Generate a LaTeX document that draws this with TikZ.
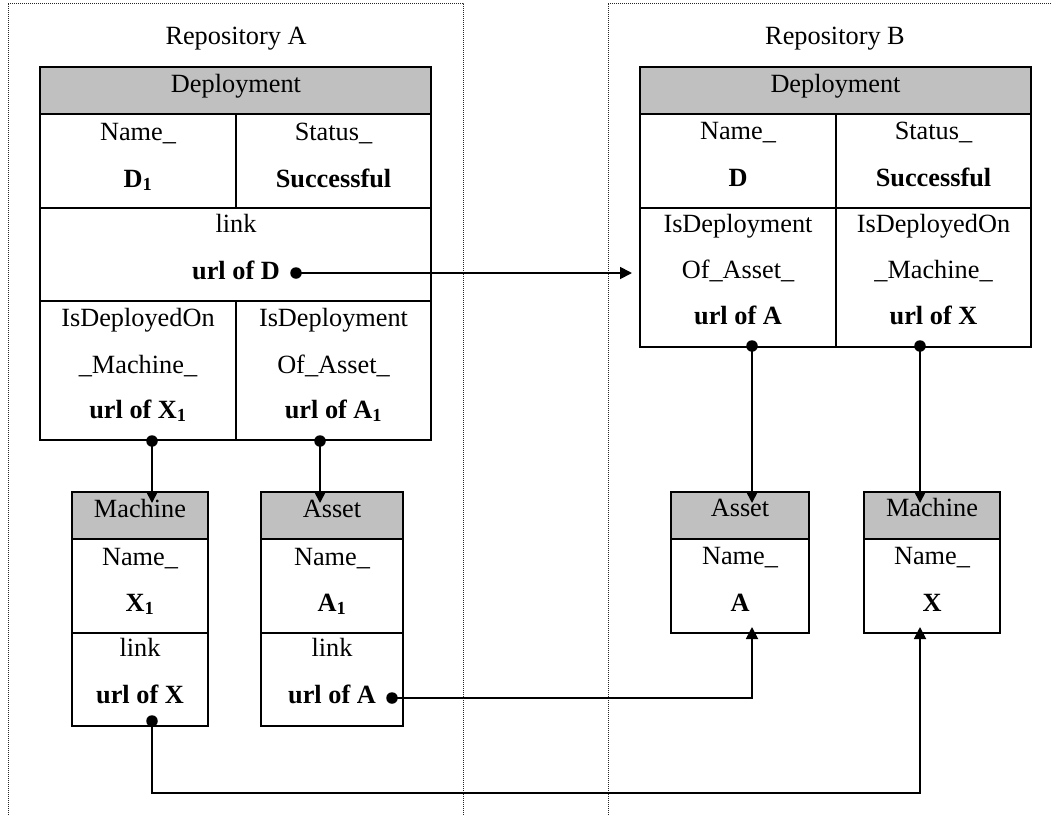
\documentclass[tikz,border=0pt]{standalone}
\usepackage{fontspec}
\setmainfont{Liberation Serif}
\usetikzlibrary{arrows.meta}
\definecolor{hdrgray}{HTML}{C0C0C0}
\begin{document}
\begin{tikzpicture}[x=1pt,y=-1pt,
  cellbox/.style={draw, line width=2pt, inner sep=0pt, outer sep=0pt, anchor=north west, fill=white},
  hdrbox/.style={cellbox, fill=hdrgray},
  lbl/.style={anchor=base, inner sep=0pt, font=\fontsize{26.3}{30}\selectfont},
  dotnode/.style={circle, fill=black, inner sep=0pt, minimum size=11.5pt},
  conn/.style={line width=1.8pt, -{Triangle[length=12pt,width=12pt]}},
  repoframe/.style={line width=1pt, dash pattern=on 1pt off 1pt, black!85}]
\useasboundingbox (0,0) rectangle (1052,815);

% repository frames
\draw[repoframe] (8,815) -- (8,3) -- (463,3) -- (463,815);
\draw[repoframe] (608,815) -- (608,3) -- (1052,3);
\node[lbl] (repoA) at (236,44) {Repository A};
\node[lbl] (repoB) at (835,44) {Repository B};

% ---- Repository A: Deployment
\node[hdrbox, minimum width=391pt, minimum height=47pt] (dAh) at (40,67) {};
\node[cellbox, minimum width=196pt, minimum height=94pt] (dAname) at (40,114) {};
\node[cellbox, minimum width=195pt, minimum height=94pt] (dAstat) at (236,114) {};
\node[cellbox, minimum width=391pt, minimum height=93pt] (dAlink) at (40,208) {};
\node[cellbox, minimum width=196pt, minimum height=139pt] (dAmach) at (40,301) {};
\node[cellbox, minimum width=195pt, minimum height=139pt] (dAasset) at (236,301) {};

\node[lbl] (tAh) at (236,92) {Deployment};
\node[lbl] (tAn1) at (138,140) {Name\_};
\node[lbl] (tAn2) at (138,187) {\textbf{D\textsubscript{1}}};
\node[lbl] (tAs1) at (333.5,140) {Status\_};
\node[lbl] (tAs2) at (333.5,187) {\textbf{Successful}};
\node[lbl] (tAl1) at (236,232) {link};
\node[lbl] (tAl2) at (236,279) {\textbf{url of D}};
\node[lbl] (tAm1) at (138,326) {IsDeployedOn};
\node[lbl] (tAm2) at (138,373) {\_Machine\_};
\node[lbl] (tAm3) at (138,418) {\textbf{url of X\textsubscript{1}}};
\node[lbl] (tAa1) at (333.5,326) {IsDeployment};
\node[lbl] (tAa2) at (333.5,373) {Of\_Asset\_};
\node[lbl] (tAa3) at (333.5,418) {\textbf{url of A\textsubscript{1}}};

% ---- Repository A: Machine
\node[hdrbox, minimum width=136pt, minimum height=47pt] (mAh) at (72,492) {};
\node[cellbox, minimum width=136pt, minimum height=94pt] (mAn) at (72,539) {};
\node[cellbox, minimum width=136pt, minimum height=93pt] (mAl) at (72,633) {};
\node[lbl] (tmA1) at (140,517) {Machine};
\node[lbl] (tmA2) at (140,565) {Name\_};
\node[lbl] (tmA3) at (140,611) {\textbf{X\textsubscript{1}}};
\node[lbl] (tmA4) at (140,656) {link};
\node[lbl] (tmA5) at (140,703) {\textbf{url of X}};

% ---- Repository A: Asset
\node[hdrbox, minimum width=142pt, minimum height=47pt] (aAh) at (261,492) {};
\node[cellbox, minimum width=142pt, minimum height=94pt] (aAn) at (261,539) {};
\node[cellbox, minimum width=142pt, minimum height=93pt] (aAl) at (261,633) {};
\node[lbl] (taA1) at (332,517) {Asset};
\node[lbl] (taA2) at (332,565) {Name\_};
\node[lbl] (taA3) at (332,611) {\textbf{A\textsubscript{1}}};
\node[lbl] (taA4) at (332,656) {link};
\node[lbl] (taA5) at (332,703) {\textbf{url of A}};

% ---- Repository B: Deployment
\node[hdrbox, minimum width=391pt, minimum height=47pt] (dBh) at (640,67) {};
\node[cellbox, minimum width=196pt, minimum height=94pt] (dBname) at (640,114) {};
\node[cellbox, minimum width=195pt, minimum height=94pt] (dBstat) at (836,114) {};
\node[cellbox, minimum width=196pt, minimum height=139pt] (dBof) at (640,208) {};
\node[cellbox, minimum width=195pt, minimum height=139pt] (dBon) at (836,208) {};

\node[lbl] (tBh) at (835.5,92) {Deployment};
\node[lbl] (tBn1) at (738,139) {Name\_};
\node[lbl] (tBn2) at (738,186) {\textbf{D}};
\node[lbl] (tBs1) at (933.5,139) {Status\_};
\node[lbl] (tBs2) at (933.5,186) {\textbf{Successful}};
\node[lbl] (tBa1) at (738,232) {IsDeployment};
\node[lbl] (tBa2) at (738,278) {Of\_Asset\_};
\node[lbl] (tBa3) at (738,324) {\textbf{url of A}};
\node[lbl] (tBm1) at (933.5,232) {IsDeployedOn};
\node[lbl] (tBm2) at (933.5,278) {\_Machine\_};
\node[lbl] (tBm3) at (933.5,324) {\textbf{url of X}};

% ---- Repository B: Asset
\node[hdrbox, minimum width=138pt, minimum height=47pt] (aBh) at (671,492) {};
\node[cellbox, minimum width=138pt, minimum height=94pt] (aBn) at (671,539) {};
\node[lbl] (taB1) at (740,516) {Asset};
\node[lbl] (taB2) at (740,564) {Name\_};
\node[lbl] (taB3) at (740,611) {\textbf{A}};

% ---- Repository B: Machine
\node[hdrbox, minimum width=136pt, minimum height=47pt] (mBh) at (864,492) {};
\node[cellbox, minimum width=136pt, minimum height=94pt] (mBn) at (864,539) {};
\node[lbl] (tmB1) at (932,516) {Machine};
\node[lbl] (tmB2) at (932,564) {Name\_};
\node[lbl] (tmB3) at (932,611) {\textbf{X}};

% ---- link end points
\node[dotnode] (dD)  at (296,273) {};
\node[dotnode] (dX1) at (152,441) {};
\node[dotnode] (dA1) at (320,441) {};
\node[dotnode] (dBA) at (752,346) {};
\node[dotnode] (dBX) at (920,346) {};
\node[dotnode] (dUA) at (392,698) {};
\node[dotnode] (dUX) at (152,721) {};
\coordinate (bendX) at (152,793);

% ---- connectors
\draw[conn, shorten >=8pt] (dD.center) -- (dBof.west |- dD.center);
\draw[conn, shorten >=-11pt] (dX1.center) -- (dX1.center |- mAh.north);
\draw[conn, shorten >=-11pt] (dA1.center) -- (dA1.center |- aAh.north);
\draw[conn, shorten >=-11pt] (dBA.center) -- (dBA.center |- aBh.north);
\draw[conn, shorten >=-11pt] (dBX.center) -- (dBX.center |- mBh.north);
\draw[conn, shorten >=-6pt] (dUA.center) -- (dUA.center -| dBA.center) -- (dBA.center |- aBn.south);
\draw[conn, shorten >=-6pt] (dUX.center) -- (bendX) -- (bendX -| dBX.center) -- (dBX.center |- mBn.south);
\end{tikzpicture}
\end{document}
